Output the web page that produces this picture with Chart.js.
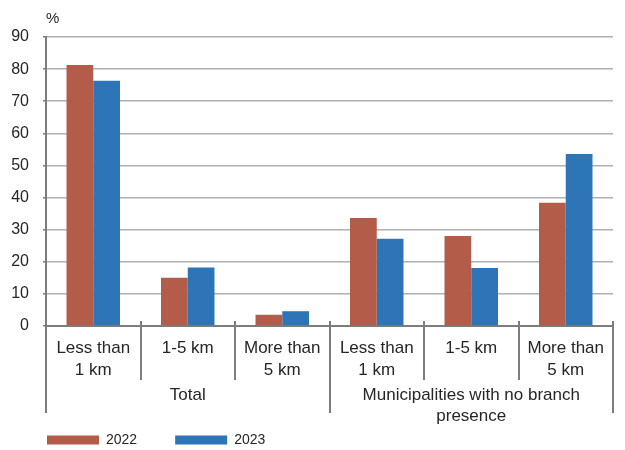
<!DOCTYPE html>
<html>
<head>
<meta charset="utf-8">
<script src="https://cdn.jsdelivr.net/npm/chart.js@4/dist/chart.umd.min.js"></script>
<style>
  html, body { margin: 0; padding: 0; background: #fff; }
  #wrap { width: 625px; height: 450px; }
</style>
</head>
<body>
<div id="wrap"><canvas id="chart" width="625" height="450"></canvas></div>
<script>
// Distance to nearest branch, share of population (%)
const distanceLabels = [['Less than', '1 km'], '1-5 km', ['More than', '5 km'],
                        ['Less than', '1 km'], '1-5 km', ['More than', '5 km']];
const groupLabels = ['Total', ['Municipalities with no branch', 'presence']];
const seriesNames = ['2022', '2023'];
const values2022 = [81.3, 15.0, 3.5, 33.6, 28.0, 38.4];
const values2023 = [76.4, 18.2, 4.6, 27.2, 18.1, 53.6];
const yTicks = [0, 10, 20, 30, 40, 50, 60, 70, 80, 90];
const unitText = '%';

const TEXT = '#262626';
const AXIS = '#7d7d7d';
const GRID = '#b0b0b0';
const FONT = '"Liberation Sans", Arial, Helvetica, sans-serif';

Chart.defaults.font.family = FONT;
Chart.defaults.color = TEXT;

// Unit above the value axis, short category dividers poking above the baseline;
// group-axis labels are allowed to run into the legend band
const axisExtras = {
  id: 'axisExtras',
  afterLayout(chart) {
    const g = chart.scales.x2;
    g.bottom = g.top + 50;
  },
  afterDraw(chart) {
    const { ctx, scales: { x, y } } = chart;
    ctx.save();
    ctx.strokeStyle = AXIS;
    ctx.lineWidth = 2;
    const n = x.ticks.length;
    const half = (x.getPixelForValue(1) - x.getPixelForValue(0)) / 2;
    ctx.beginPath();
    for (let i = 1; i <= n; i++) {
      const px = Math.round(x.getPixelForValue(i) - half);
      ctx.moveTo(px, x.top - 5);
      ctx.lineTo(px, x.top);
    }
    ctx.stroke();
    ctx.font = '15px ' + FONT;
    ctx.fillStyle = TEXT;
    ctx.textAlign = 'left';
    ctx.textBaseline = 'middle';
    ctx.fillText(unitText, y.right, y.top - 18);
    ctx.restore();
  }
};

new Chart(document.getElementById('chart'), {
  type: 'bar',
  data: {
    labels: distanceLabels,
    datasets: [
      { label: seriesNames[0], data: values2022, backgroundColor: '#b35c4a', borderWidth: 0 },
      { label: seriesNames[1], data: values2023, backgroundColor: '#2e75b8', borderWidth: 0 }
    ]
  },
  options: {
    responsive: false,
    animation: false,
    devicePixelRatio: 1,
    datasets: { bar: { categoryPercentage: 0.566, barPercentage: 1.0 } },
    layout: { padding: { left: 9, right: 12, top: 37, bottom: -7 } },
    plugins: {
      tooltip: { enabled: false },
      legend: {
        position: 'bottom',
        align: 'start',
        labels: {
          boxWidth: 52,
          boxHeight: 9,
          padding: 38,
          color: TEXT,
          font: { size: 14 }
        }
      }
    },
    scales: {
      y: {
        min: 0,
        max: 90,
        afterBuildTicks: (s) => { s.ticks = yTicks.map(v => ({ value: v })); },
        afterFit: (s) => { s.width = 37; },
        border: { color: AXIS, width: 2 },
        grid: { color: GRID, lineWidth: 1.5, tickLength: 3, tickColor: AXIS },
        ticks: { padding: 14, color: TEXT, font: { size: 16 } }
      },
      x: {
        position: 'bottom',
        offset: true,
        afterFit: (s) => { s.height = 54; },
        border: { color: AXIS, width: 2 },
        grid: { offset: true, drawOnChartArea: false, tickLength: 54, color: AXIS, lineWidth: 2 },
        ticks: { padding: -42.5, maxRotation: 0, autoSkip: false, color: TEXT,
                 font: { size: 17, lineHeight: 1.28 } }
      },
      x2: {
        type: 'category',
        position: 'bottom',
        labels: groupLabels,
        offset: true,
        afterFit: (s) => { s.height = 15; },
        border: { display: false },
        grid: { offset: true, drawOnChartArea: false, tickLength: 33, color: AXIS, lineWidth: 2 },
        ticks: { padding: -29, maxRotation: 0, autoSkip: false, color: TEXT,
                 font: { size: 17, lineHeight: 1.28 } }
      }
    }
  },
  plugins: [axisExtras]
});
</script>
</body>
</html>
